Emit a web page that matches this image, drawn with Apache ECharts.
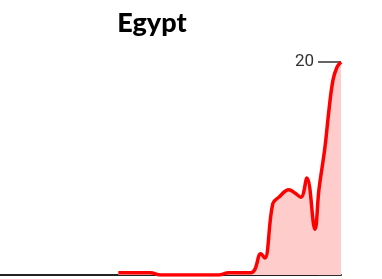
<!DOCTYPE html>
<html>
<head>
<meta charset="utf-8">
<script src="https://cdn.jsdelivr.net/npm/echarts@6/dist/echarts.min.js"></script>
<style>
  html, body { margin: 0; padding: 0; background: #fff; }
  #chart { width: 382px; height: 279px; }
</style>
</head>
<body>
<div id="chart"></div>
<script>
// day index since start of the period
const days = [59, 65, 75, 80, 109, 114, 125, 127, 130, 132, 136, 139, 144, 147, 150, 153, 157, 159, 162, 164, 166, 168, 170]
// rolling average values
const values = [0.2, 0.2, 0.2, 0, 0, 0.2, 0.2, 0.5, 2.0, 1.6, 6.7, 7.3, 8.0, 7.7, 7.3, 9.1, 4.3, 8.0, 12.0, 15.5, 18.3, 19.5, 20]
const yTicks = [0, 20]
const title = 'Egypt'

const chart = echarts.init(document.getElementById('chart'))

chart.setOption({
  animation: false,
  title: {
    text: title,
    left: 147,
    textAlign: 'center',
    top: 5,
    textStyle: { fontFamily: 'Lato', fontWeight: 900, fontSize: 27, color: '#000' }
  },
  grid: { left: 0, right: 41, top: 62, bottom: 4 },
  xAxis: {
    type: 'value',
    min: 0,
    max: 170,
    axisLine: { show: true, lineStyle: { color: '#222', width: 2 } },
    axisTick: { show: false },
    axisLabel: { show: false },
    splitLine: { show: false }
  },
  yAxis: {
    type: 'value',
    position: 'right',
    min: yTicks[0],
    max: yTicks[1],
    interval: 20,
    // keep the axis at the right edge so the "20" tick sits next to the line end
    axisLine: { show: true, onZero: false, lineStyle: { color: 'rgba(0,0,0,0)' } },
    axisTick: { show: true, inside: true, length: 23, lineStyle: { color: '#333', width: 1.5 } },
    axisLabel: {
      inside: true,
      margin: 27,
      fontFamily: 'Roboto',
      fontSize: 17,
      color: '#333',
      formatter: v => (v === yTicks[1] ? String(v) : '')
    },
    splitLine: { show: false }
  },
  series: [{
    type: 'line',
    data: days.map((d, i) => [d, values[i]]),
    smooth: 0.4,
    symbol: 'none',
    lineStyle: { color: '#ff0000', width: 3.5 },
    areaStyle: { color: '#ffcccc', opacity: 1 },
    z: 3
  }]
})
</script>
</body>
</html>
